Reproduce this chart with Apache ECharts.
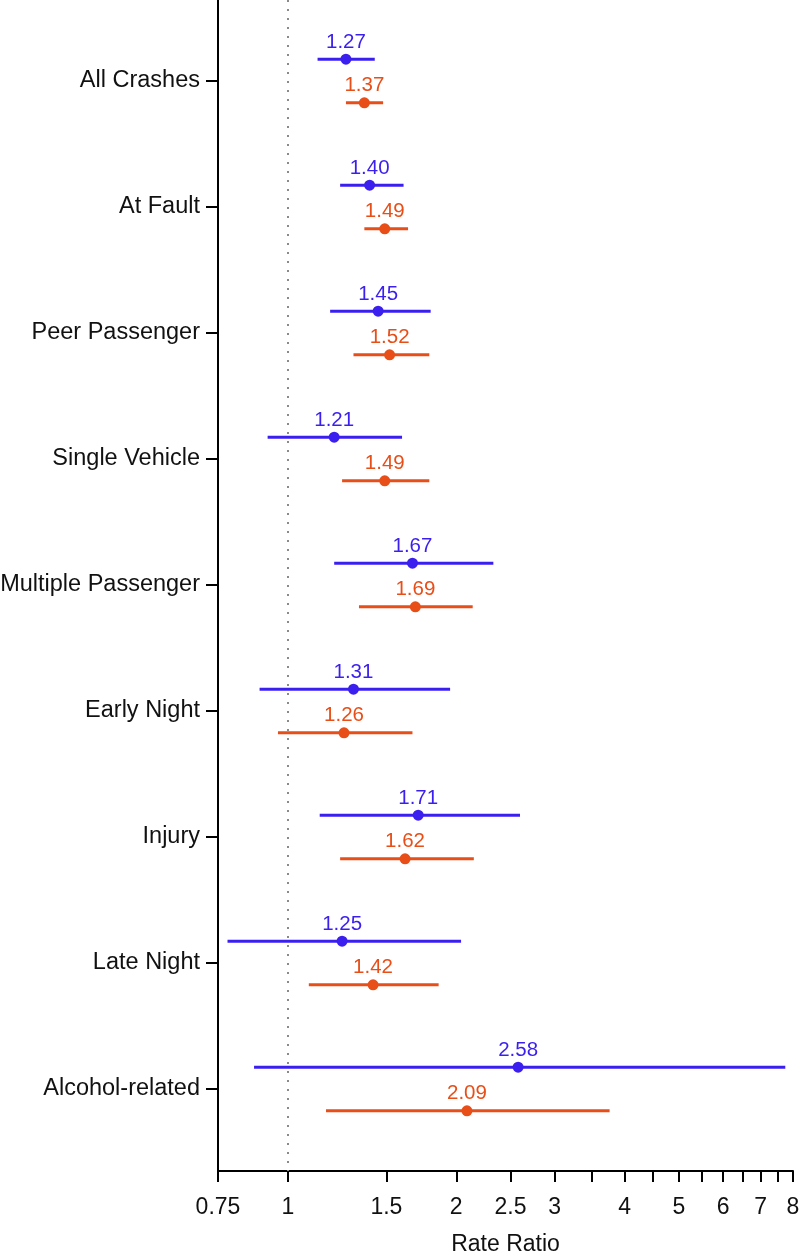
<!DOCTYPE html>
<html><head><meta charset="utf-8">
<script src="https://cdn.jsdelivr.net/npm/echarts@6/dist/echarts.min.js"></script>
<style>html,body{margin:0;padding:0;background:#fff}#c{width:802px;height:1254px}</style>
</head><body><div id="c"></div>
<script>
const categories = ['All Crashes','At Fault','Peer Passenger','Single Vehicle','Multiple Passenger','Early Night','Injury','Late Night','Alcohol-related'];
const blueEst = [1.27,1.40,1.45,1.21,1.67,1.31,1.71,1.25,2.58];
const blueLo  = [1.13,1.24,1.19,0.92,1.21,0.89,1.14,0.78,0.87];
const blueHi  = [1.43,1.61,1.80,1.60,2.33,1.95,2.60,2.04,7.75];
const orangeEst = [1.37,1.49,1.52,1.49,1.69,1.26,1.62,1.42,2.09];
const orangeLo  = [1.27,1.37,1.31,1.25,1.34,0.96,1.24,1.09,1.17];
const orangeHi  = [1.48,1.64,1.79,1.79,2.14,1.67,2.15,1.86,3.76];
const xTicks  = [0.75,1,1.5,2,2.5,3,3.5,4,4.5,5,5.5,6,6.5,7,7.5,8];
const xLabels = [0.75,1,1.5,2,2.5,3,4,5,6,7,8];
const BLUE = '#3a1fee', ORANGE = '#e84e18';
const OFF = 0.173;
const L = Math.log;
const FONT = '"Liberation Sans", Arial, sans-serif';

function ciSeries(lo, hi, off, color) {
  return {
    type: 'custom',
    data: lo.map((v, i) => [L(v), L(hi[i]), i + off]),
    encode: { x: [0, 1], y: 2 },
    renderItem: (params, api) => {
      const y = api.value(2);
      const p1 = api.coord([api.value(0), y]);
      const p2 = api.coord([api.value(1), y]);
      return { type: 'line', shape: { x1: p1[0], y1: p1[1], x2: p2[0], y2: p2[1] },
               style: { stroke: color, lineWidth: 3 } };
    },
    z: 3
  };
}
function ptSeries(est, off, color) {
  return {
    type: 'scatter',
    data: est.map((v, i) => [L(v), i + off]),
    symbol: 'circle', symbolSize: 11,
    itemStyle: { color: color, opacity: 1 },
    label: { show: true, position: 'top', distance: 1, color: color, fontSize: 20.5, fontFamily: FONT,
             formatter: p => est[p.dataIndex].toFixed(2) },
    z: 4
  };
}
function nearestLabel(v, arr) {
  let best = arr[0], d = Infinity;
  arr.forEach(t => { const dd = Math.abs(L(t) - v); if (dd < d) { d = dd; best = t; } });
  return String(best);
}

const chart = echarts.init(document.getElementById('c'));
chart.setOption({
  animation: false,
  textStyle: { fontFamily: FONT },
  grid: { left: 218, right: 9, top: 0, bottom: 83, containLabel: false, outerBoundsMode: 'none' },
  xAxis: {
    type: 'value', min: L(0.75), max: L(8),
    name: 'Rate Ratio', nameLocation: 'middle', nameGap: 62,
    nameTextStyle: { fontSize: 23, color: '#111', fontFamily: FONT },
    axisLine: { show: true, onZero: false, lineStyle: { color: '#000', width: 2 } },
    axisTick: { show: true, length: 11, customValues: xTicks.map(L), lineStyle: { color: '#000', width: 2 } },
    axisLabel: { customValues: xLabels.map(L), margin: 25, fontSize: 23, color: '#111', fontFamily: FONT,
                 formatter: v => nearestLabel(v, xLabels) },
    splitLine: { show: false }
  },
  yAxis: {
    type: 'value', inverse: true, min: -0.643, max: 8.651,
    axisLine: { show: true, onZero: false, lineStyle: { color: '#000', width: 2 } },
    axisTick: { show: true, length: 12, customValues: categories.map((c, i) => i), lineStyle: { color: '#000', width: 2 } },
    axisLabel: { customValues: categories.map((c, i) => i), margin: 18, fontSize: 23.5, color: '#111', fontFamily: FONT,
                 formatter: v => categories[Math.round(v)] },
    splitLine: { show: false }
  },
  series: [
    Object.assign(ciSeries(blueLo, blueHi, -OFF, BLUE), {
      markLine: { silent: true, symbol: 'none', label: { show: false },
                  lineStyle: { type: [2, 7], color: '#8a8a8a', width: 2 },
                  data: [{ xAxis: 0 }], z: 1 }
    }),
    ciSeries(orangeLo, orangeHi, OFF, ORANGE),
    ptSeries(blueEst, -OFF, BLUE),
    ptSeries(orangeEst, OFF, ORANGE)
  ]
});
</script></body></html>
